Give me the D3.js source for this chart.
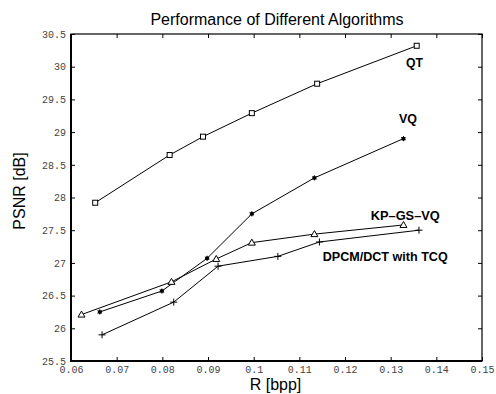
<!DOCTYPE html>
<html>
<head>
<meta charset="utf-8">
<script src="https://cdn.jsdelivr.net/npm/d3@7"></script>
<style>
  body { margin: 0; background: #fff; }
  .tick text { font-family: "Liberation Mono", "DejaVu Sans Mono", monospace; font-size: 10px; fill: #444; }
</style>
</head>
<body>
<div id="chart"></div>
<script>
// data
var qtR    = [0.0653, 0.0816, 0.0889, 0.0996, 0.1139, 0.1357];
var qtPsnr = [27.92, 28.65, 28.93, 29.29, 29.74, 30.32];

var vqR    = [0.0663, 0.0799, 0.0898, 0.0996, 0.1133, 0.1328];
var vqPsnr = [26.25, 26.57, 27.07, 27.75, 28.30, 28.90];

var kpR    = [0.0623, 0.0820, 0.0918, 0.0996, 0.1133, 0.1328];
var kpPsnr = [26.21, 26.71, 27.06, 27.31, 27.44, 27.58];

var dpR    = [0.0668, 0.0825, 0.0922, 0.1053, 0.1144, 0.1362];
var dpPsnr = [25.90, 26.40, 26.95, 27.10, 27.32, 27.50];

var xTicks = [0.06, 0.07, 0.08, 0.09, 0.1, 0.11, 0.12, 0.13, 0.14, 0.15];
var yTicks = [25.5, 26, 26.5, 27, 27.5, 28, 28.5, 29, 29.5, 30, 30.5];

var margin = {top: 34, right: 14, bottom: 33, left: 71},
    width = 496 - margin.left - margin.right,
    height = 394 - margin.top - margin.bottom;

var svg = d3.select("#chart")
    .append("svg")
    .attr("width", 496)
    .attr("height", 394)
    .append("g")
    .attr("transform", "translate(" + margin.left + "," + margin.top + ")");

var x = d3.scaleLinear().domain([0.06, 0.15]).range([0, width]);
var y = d3.scaleLinear().domain([25.5, 30.5]).range([height, 0]);

// axes, ticks pointing inward
svg.append("g")
    .attr("transform", "translate(0," + height + ")")
    .call(d3.axisBottom(x).tickValues(xTicks).tickSizeInner(-4).tickSizeOuter(0).tickPadding(5)
        .tickFormat(function(d) { return d3.format(".2~f")(d); }))
    .call(function(g) { g.select(".domain").remove(); });
svg.append("g")
    .call(d3.axisTop(x).tickValues(xTicks).tickSizeInner(-4).tickSizeOuter(0).tickFormat(""))
    .call(function(g) { g.select(".domain").remove(); });
svg.append("g")
    .call(d3.axisLeft(y).tickValues(yTicks).tickSizeInner(-4).tickSizeOuter(0).tickPadding(5)
        .tickFormat(function(d) { return String(d); }))
    .call(function(g) { g.select(".domain").remove(); });
svg.append("g")
    .attr("transform", "translate(" + width + ",0)")
    .call(d3.axisRight(y).tickValues(yTicks).tickSizeInner(-4).tickSizeOuter(0).tickFormat(""))
    .call(function(g) { g.select(".domain").remove(); });

// box
svg.append("rect")
    .attr("width", width).attr("height", height)
    .attr("fill", "none").attr("stroke", "#000").attr("stroke-width", 1.2);
svg.append("path")
    .attr("d", "M0,0V" + height + "H" + width)
    .attr("fill", "none").attr("stroke", "#000").attr("stroke-width", 2);

var line = d3.line()
    .x(function(d) { return x(d[0]); })
    .y(function(d) { return y(d[1]); });

var series = [
    {r: qtR, p: qtPsnr, mark: "square"},
    {r: vqR, p: vqPsnr, mark: "dot"},
    {r: kpR, p: kpPsnr, mark: "triangle"},
    {r: dpR, p: dpPsnr, mark: "plus"}
];

series.forEach(function(s) {
    var pts = s.r.map(function(v, i) { return [v, s.p[i]]; });
    svg.append("path")
        .datum(pts)
        .attr("d", line)
        .attr("fill", "none")
        .attr("stroke", "#000")
        .attr("stroke-width", 1);

    var g = svg.append("g").selectAll("g")
        .data(pts).enter().append("g")
        .attr("transform", function(d) { return "translate(" + x(d[0]) + "," + y(d[1]) + ")"; });

    if (s.mark == "square") {
        g.append("rect").attr("x", -2.5).attr("y", -2.5).attr("width", 5).attr("height", 5)
            .attr("fill", "#fff").attr("stroke", "#000").attr("stroke-width", 1);
    } else if (s.mark == "dot") {
        g.append("path").attr("d", d3.symbol(d3.symbolAsterisk, 18))
            .attr("stroke", "#000").attr("stroke-width", 1);
        g.append("circle").attr("r", 2).attr("fill", "#000");
    } else if (s.mark == "triangle") {
        g.append("path").attr("d", "M0,-3.5L3.5,2.5L-3.5,2.5Z")
            .attr("fill", "#fff").attr("stroke", "#000").attr("stroke-width", 1);
    } else {
        g.append("path").attr("d", "M-3.5,0H3.5M0,-3.5V3.5")
            .attr("stroke", "#000").attr("stroke-width", 1);
    }
});

// series labels
var labelText = ["QT", "VQ", "KP\u2013GS\u2013VQ", "DPCM/DCT with TCQ"];
var labelR    = [0.1352, 0.1338, 0.1332, 0.1288];
var labelPsnr = [30.06, 29.21, 27.72, 27.09];
var labelLen  = [17, 18, 69, 125];

svg.selectAll(".lbl")
    .data(labelText).enter().append("text")
    .attr("class", "lbl")
    .attr("x", function(d, i) { return x(labelR[i]); })
    .attr("y", function(d, i) { return y(labelPsnr[i]); })
    .attr("text-anchor", "middle")
    .attr("dy", "0.35em")
    .attr("textLength", function(d, i) { return labelLen[i]; })
    .attr("lengthAdjust", "spacingAndGlyphs")
    .style("font-family", "Liberation Sans, Arial, sans-serif")
    .style("font-weight", "bold")
    .style("font-size", "12px")
    .text(function(d) { return d; });

// title and axis titles
svg.append("text")
    .attr("x", 277 - margin.left)
    .attr("y", -9)
    .attr("text-anchor", "middle")
    .style("font-family", "Liberation Sans, Arial, sans-serif")
    .style("font-size", "16px")
    .text("Performance of Different Algorithms");

svg.append("text")
    .attr("x", 275.5 - margin.left)
    .attr("y", height + 29)
    .attr("text-anchor", "middle")
    .style("font-family", "Liberation Sans, Arial, sans-serif")
    .style("font-size", "16px")
    .text("R [bpp]");

svg.append("text")
    .attr("transform", "rotate(-90)")
    .attr("x", -(191 - margin.top))
    .attr("y", -margin.left + 25)
    .attr("text-anchor", "middle")
    .style("font-family", "Liberation Sans, Arial, sans-serif")
    .style("font-size", "16px")
    .text("PSNR [dB]");
</script>
</body>
</html>
